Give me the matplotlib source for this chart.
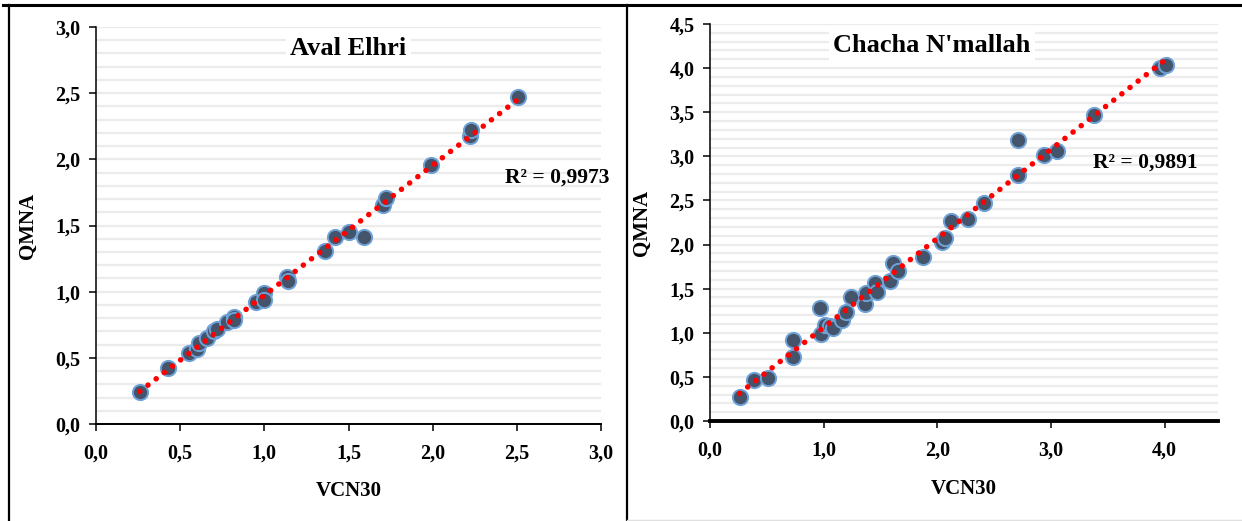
import numpy as np
import matplotlib
matplotlib.use('Agg')
import matplotlib.pyplot as plt
from matplotlib.lines import Line2D
from matplotlib.ticker import MultipleLocator, FuncFormatter

# Aval Elhri (VCN30, QMNA)
aval_vcn30 = [0.26, 0.43, 0.55, 0.60, 0.61, 0.66, 0.70, 0.72, 0.78, 0.82, 0.82,
              0.95, 1.00, 1.00, 1.135, 1.14, 1.36, 1.42, 1.505, 1.59, 1.705, 1.72,
              1.99, 2.22, 2.225, 2.505]
aval_qmna = [0.24, 0.42, 0.54, 0.57, 0.61, 0.65, 0.70, 0.72, 0.77, 0.81, 0.785,
             0.92, 0.99, 0.94, 1.11, 1.08, 1.31, 1.415, 1.45, 1.415, 1.655, 1.705,
             1.96, 2.18, 2.22, 2.47]
aval_r2 = "R² = 0,9973"

# Chacha N'mallah (VCN30, QMNA)
chacha_vcn30 = [0.26, 0.39, 0.51, 0.73, 0.73, 0.97, 0.98, 1.01, 1.06, 1.08,
                1.16, 1.20, 1.24, 1.36, 1.37, 1.45, 1.47, 1.585, 1.61, 1.65,
                1.875, 2.04, 2.07, 2.12, 2.27, 2.41, 2.71, 2.71, 2.94, 3.05,
                3.38, 3.96, 4.01]
chacha_qmna = [0.27, 0.47, 0.49, 0.92, 0.73, 1.28, 0.99, 1.09, 1.075, 1.05,
               1.14, 1.24, 1.40, 1.33, 1.45, 1.56, 1.465, 1.59, 1.79, 1.70,
               1.86, 2.03, 2.07, 2.27, 2.29, 2.47, 3.19, 2.79, 3.02, 3.055,
               3.47, 4.00, 4.03]
chacha_r2 = "R² = 0,9891"

FONT = 'Liberation Serif'
plt.rcParams['font.family'] = [FONT, 'DejaVu Serif']
plt.rcParams['font.weight'] = 'bold'

comma_fmt = FuncFormatter(lambda v, p: f"{v:.1f}".replace('.', ','))


def draw_panel(ax, x, y, title, r2_text, xmax, ymax, xstep, ystep,
               title_x, r2_pos, xspine_w):
    """Scatter with dotted linear trend, Excel-like styling."""
    x = np.array(x)
    y = np.array(y)

    ax.set_xlim(0, xmax)
    ax.set_ylim(0, ymax)
    ax.yaxis.set_major_locator(MultipleLocator(ystep))
    ax.yaxis.set_minor_locator(MultipleLocator(0.1))
    ax.xaxis.set_major_locator(MultipleLocator(xstep))
    ax.xaxis.set_major_formatter(comma_fmt)
    ax.yaxis.set_major_formatter(comma_fmt)
    ax.grid(True, axis='y', which='both', color='#ececec', lw=1.6)
    ax.set_axisbelow(True)

    for s in ['top', 'right']:
        ax.spines[s].set_visible(False)
    ax.spines['left'].set_linewidth(1.1)
    ax.spines['bottom'].set_linewidth(xspine_w)
    ax.tick_params(axis='both', which='major', direction='out', length=5,
                   width=1.1, labelsize=14.5, pad=6)
    ax.tick_params(axis='y', which='minor', length=0)
    ax.tick_params(axis='x', pad=9)

    ax.plot(x, y, 'o', ms=11, mfc='#44546a', mec='#6fa3d8', mew=1.4,
            zorder=3)

    # linear trend line
    a, b = np.polyfit(x, y, 1)
    xs = np.array([x.min(), x.max()])
    ax.plot(xs, a * xs + b, color='#ff0000', lw=4.0,
            linestyle=(0, (0.01, 1.85)), dash_capstyle='round', zorder=4)

    ax.text(title_x, 0.947, title, transform=ax.transAxes, ha='center',
            va='center', fontsize=19, fontweight='bold',
            bbox=dict(facecolor='white', edgecolor='none', pad=3), zorder=5)
    ax.text(r2_pos[0], r2_pos[1], r2_text, ha='center', va='center',
            fontsize=15.5, fontweight='bold', zorder=5)

    ax.set_xlabel('VCN30', fontsize=15, fontweight='bold', labelpad=13)
    ax.set_ylabel('QMNA', fontsize=15, fontweight='bold', labelpad=13)


fig = plt.figure(figsize=(12.42, 5.21), dpi=100)

ax1 = fig.add_axes([96 / 1242, 97 / 521, 505 / 1242, 397 / 521])
draw_panel(ax1, aval_vcn30, aval_qmna, 'Aval Elhri', aval_r2,
           3.0, 3.0, 0.5, 0.5, 0.5, (2.74, 1.86), 1.4)

ax2 = fig.add_axes([710 / 1242, 100 / 521, 508 / 1242, 397 / 521])
draw_panel(ax2, chacha_vcn30, chacha_qmna, "Chacha N'mallah", chacha_r2,
           4.47, 4.5, 1.0, 0.5, 0.437, (3.83, 2.93), 2.8)

# outer frame lines of the original figure
fig.add_artist(Line2D([3 / 1242, 1], [1 - 5 / 521, 1 - 5 / 521],
                      transform=fig.transFigure, color='black', lw=2.2))
fig.add_artist(Line2D([9 / 1242, 9 / 1242], [0, 1 - 5 / 521],
                      transform=fig.transFigure, color='black', lw=1.6))
fig.add_artist(Line2D([627 / 1242, 627 / 1242], [0, 1 - 5 / 521],
                      transform=fig.transFigure, color='black', lw=1.6))
fig.add_artist(Line2D([627 / 1242, 1], [1.5 / 521, 1.5 / 521],
                      transform=fig.transFigure, color='#e0e0e0', lw=1.0))

fig.savefig('out.png', dpi=100)
